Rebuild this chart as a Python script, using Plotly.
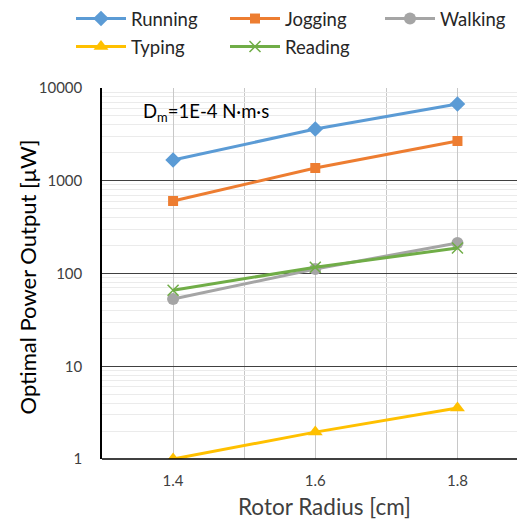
import plotly.graph_objects as go

radius = [1.4, 1.6, 1.8]
running = [1675, 3610, 6720]
jogging = [605, 1372, 2684]
walking = [53, 112, 213]
typing = [1.0, 1.95, 3.55]
reading = [66, 117, 188]

series = [
    ("Running", running, "#5B9BD5", "diamond", 12, "legend"),
    ("Jogging", jogging, "#ED7D31", "square", 10, "legend2"),
    ("Walking", walking, "#A5A5A5", "circle", 12, "legend3"),
    ("Typing", typing, "#FFC000", "triangle-up", 13, "legend"),
    ("Reading", reading, "#70AD47", "x-thin", 11, "legend2"),
]

FONT = "Lato, 'Open Sans', sans-serif"
W, H = 517, 511
T, B = 80, 60
PH = H - T - B
fig = go.Figure()
for name, vals, color, sym, sz, lg in series:
    mk = dict(symbol=sym, size=sz, color=color)
    if sym == "x-thin":
        mk["line"] = dict(color=color, width=1.5)
    fig.add_trace(go.Scatter(x=radius, y=vals, name=name, mode="lines+markers",
                             legend=lg, legendgroup=name,
                             line=dict(color=color, width=3), marker=mk))

def leg(xpx):
    return dict(orientation="v", xref="container", yref="paper",
                x=xpx / W, y=1 + (T + 8) / PH, xanchor="left", yanchor="top",
                font=dict(size=18.5, color="#262626"), tracegroupgap=1,
                itemwidth=50, bgcolor="rgba(0,0,0,0)")

fig.update_layout(
    width=W, height=H,
    margin=dict(l=94, r=0, t=T, b=B, autoexpand=False),
    paper_bgcolor="white", plot_bgcolor="white",
    font=dict(family=FONT, color="#404040", size=15),
    legend=leg(63), legend2=leg(217), legend3=leg(372),
    annotations=[
        dict(text="D<sub>m</sub>=1E-4 N·m·s", xref="paper", yref="paper",
             x=(141 - 102) / 423, y=(459 - 113) / PH, xanchor="left", yanchor="middle",
             showarrow=False, font=dict(size=18.5, color="black")),
        dict(text="Optimal Power Output [μW]", xref="paper", yref="paper",
             x=0, y=0.5, xshift=-75, yshift=-4, textangle=-90,
             xanchor="center", yanchor="middle", showarrow=False,
             font=dict(size=22, color="black")),
        dict(text="Rotor Radius [cm]", xref="paper", yref="paper",
             x=0.5, y=0, xshift=11, yshift=-47,
             xanchor="center", yanchor="middle", showarrow=False,
             font=dict(size=22.5, color="#404040")),
    ],
)
fig.update_xaxes(
    range=[1.3, 1.895], tickvals=[1.4, 1.6, 1.8], ticktext=["1.4", "1.6", "1.8"],
    showgrid=True, gridcolor="#C8C8C8", gridwidth=1,
    minor=dict(dtick=0.1, tick0=1.3, showgrid=True, gridcolor="#C8C8C8", gridwidth=1),
    showline=False, zeroline=False, ticks="", automargin=False, ticklabelstandoff=11,
    tickfont=dict(size=15, color="#404040"),
)
fig.update_yaxes(
    type="log", range=[0, 4], tickvals=[1, 10, 100, 1000, 10000],
    ticktext=["1", "10", "100", "1000", "10000"],
    showgrid=True, gridcolor="#404040", gridwidth=1,
    minor=dict(dtick="D1", showgrid=True, gridcolor="#EBEBEB", gridwidth=1, ticks=""),
    showline=True, linecolor="black", linewidth=1.5, zeroline=False, ticks="",
    automargin=False, ticklabelstandoff=15,
    tickfont=dict(size=15, color="#404040"),
)
fig.add_shape(type="line", xref="paper", yref="paper", x0=0, x1=1, y0=0, y1=0,
              line=dict(color="black", width=1.5), layer="above")

fig.write_html("out.html")
